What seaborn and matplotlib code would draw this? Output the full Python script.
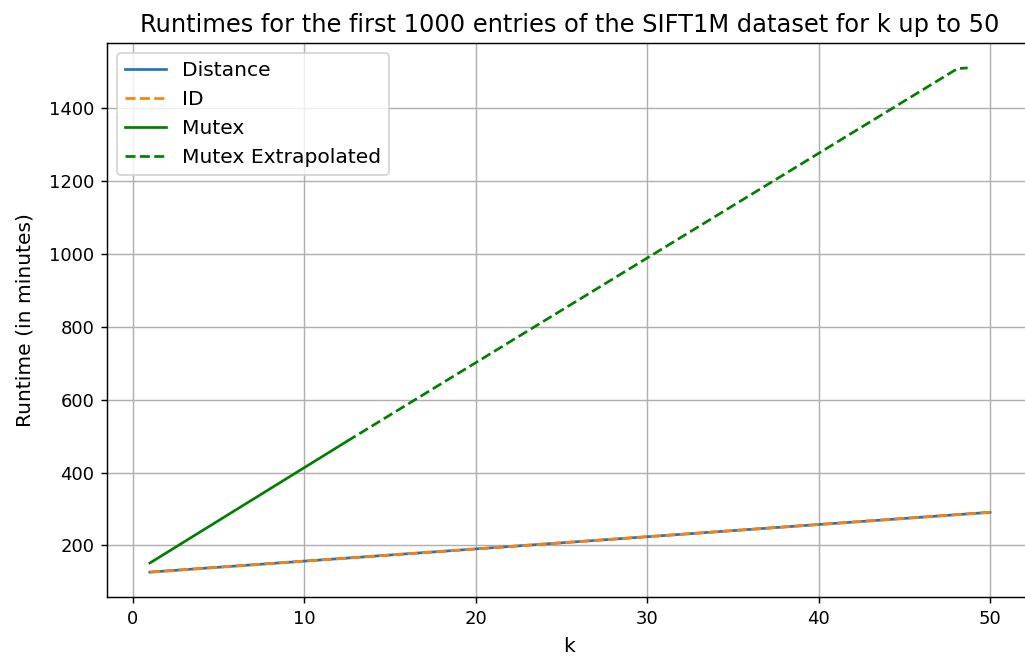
import numpy as np
import pandas as pd
import seaborn as sns
import matplotlib.pyplot as plt

# runtimes in minutes
k_dist = [1, 50]
distance = [127, 291]
k_id = [1, 50]
id_rt = [127, 291]
k_mutex = [1, 12.5]
mutex = [152, 486]
k_extra = [12.5, 48.1, 48.7]
mutex_extra = [486, 1508, 1510]

dpi = 130
fig = plt.figure(figsize=(1025 / dpi, 662 / dpi), dpi=dpi)
ax = fig.add_axes([0.1044, 0.0977, 0.9024, 0.8378])

sns.lineplot(x=k_dist, y=distance, ax=ax, color='tab:blue', label='Distance')
sns.lineplot(x=k_id, y=id_rt, ax=ax, color='tab:orange', linestyle='--', label='ID')
sns.lineplot(x=k_mutex, y=mutex, ax=ax, color='green', label='Mutex')
sns.lineplot(x=k_extra, y=mutex_extra, ax=ax, color='green', linestyle='--', label='Mutex Extrapolated')

ax.set_xlim(-1.5, 52.45)
ax.grid(True)
ax.set_xlabel('k', fontsize=11.2, labelpad=5)
ax.set_ylabel('Runtime (in minutes)', fontsize=11.2, labelpad=8)
ax.set_title('Runtimes for the first 1000 entries of the SIFT1M dataset for k up to 50', fontsize=13.4)
ax.legend(loc='upper left', fontsize=11.2)

fig.savefig('out.png', dpi=dpi)
